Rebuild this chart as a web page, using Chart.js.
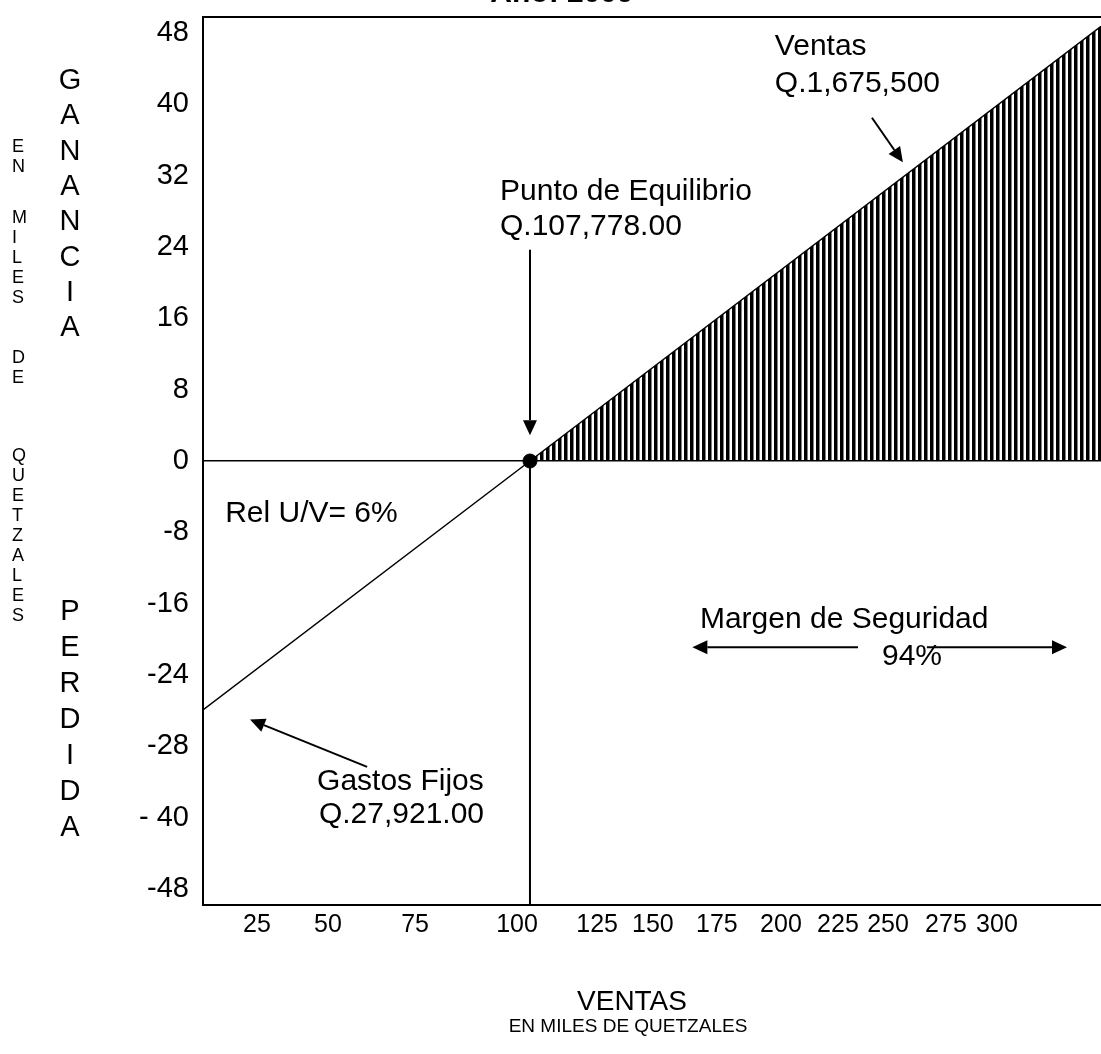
<!DOCTYPE html>
<html lang="es">
<head>
<meta charset="utf-8">
<title>Punto de Equilibrio</title>
<script src="https://cdn.jsdelivr.net/npm/chart.js@4.4.1/dist/chart.umd.min.js"></script>
<style>
  html, body { margin:0; padding:0; background:#fff; }
  #wrap { width:1101px; height:1054px; position:relative; }
</style>
</head>
<body>
<div id="wrap"><canvas id="chart"></canvas></div>
<script>
// datos en miles de quetzales
const ventasX = [0, 107.778, 296]
const utilidad = [-27.921, 0, 48.76]
const puntoEq = { x: 107.778, y: 0 }
const xTickLabels = ['25','50','75','100','125','150','175','200','225','250','275','300']
const xTickPos = [17.8, 41.2, 69.9, 103.5, 129.9, 148.3, 169.4, 190.5, 209.3, 225.8, 244.9, 261.7]
const yTickVals = [48, 40, 32, 24, 16, 8, 0, -8, -16, -24, -32, -40, -48]
const yTickLabels = ['48','40','32','24','16','8','0','-8','-16','-24','-28','- 40','-48']
const xMin = 0, xMax = 296, yMin = -49.8, yMax = 49.8

// textos y flechas (en unidades de los ejes)
const textos = [
  { t: 'Ventas', x: 188.5, y: 45.5 },
  { t: 'Q.1,675,500', x: 188.5, y: 41.4 },
  { t: 'Punto de Equilibrio', x: 97.9, y: 29.3 },
  { t: 'Q.107,778.00', x: 97.9, y: 25.3 },
  { t: 'Rel U/V= 6%', x: 7.3, y: -6.8 },
  { t: 'Gastos Fijos', x: 37.6, y: -36.9 },
  { t: 'Q.27,921.00', x: 38.2, y: -40.6 },
  { t: 'Margen de Seguridad', x: 163.8, y: -18.7 },
  { t: '94%', x: 223.8, y: -22.9 }
]
const flechas = [
  { from: [220.5, 38.5], to: [230.7, 33.5] },
  { from: [107.778, 23.7], to: [107.778, 2.9] },
  { from: [54.1, -34.3], to: [15.5, -29.0] },
  { from: [215.9, -20.9], to: [161.3, -20.9] },
  { from: [238.6, -20.9], to: [284.8, -20.9] }
]

const FONT = '"Liberation Sans", Arial, sans-serif'
Chart.defaults.font.family = FONT
Chart.defaults.color = '#000'

function pts(xs, ys) { return xs.map((x, i) => ({ x: x, y: ys[i] })) }

function rayado() {
  const c = document.createElement('canvas')
  c.width = 6; c.height = 6
  const g = c.getContext('2d')
  g.fillStyle = '#000'
  g.fillRect(0, 0, 3.5, 6)
  return g.createPattern(c, 'repeat')
}

function flecha(ctx, x1, y1, x2, y2) {
  const ang = Math.atan2(y2 - y1, x2 - x1), L = 15, W = 7
  const bx = x2 - L * Math.cos(ang), by = y2 - L * Math.sin(ang)
  ctx.beginPath(); ctx.moveTo(x1, y1); ctx.lineTo(bx, by); ctx.stroke()
  ctx.beginPath()
  ctx.moveTo(x2, y2)
  ctx.lineTo(bx + W * Math.sin(ang), by - W * Math.cos(ang))
  ctx.lineTo(bx - W * Math.sin(ang), by + W * Math.cos(ang))
  ctx.closePath(); ctx.fill()
}

function columna(ctx, letras, x, y0, paso) {
  letras.split('').forEach((l, i) => { if (l !== ' ') ctx.fillText(l, x, y0 + i * paso) })
}

const extras = {
  id: 'extras',
  afterDraw(chart) {
    const { ctx, chartArea: a, scales: { x, y } } = chart
    ctx.save()
    ctx.strokeStyle = '#000'; ctx.fillStyle = '#000'
    // borde superior
    ctx.lineWidth = 2
    ctx.beginPath(); ctx.moveTo(a.left, a.top); ctx.lineTo(a.right, a.top); ctx.stroke()

    // titulo (recortado arriba)
    ctx.font = 'bold 30px ' + FONT
    ctx.textAlign = 'center'; ctx.textBaseline = 'alphabetic'
    ctx.fillText('Año: 2009', 562, 2)

    // anotaciones
    ctx.font = '30px ' + FONT
    ctx.textAlign = 'left'
    textos.forEach(o => ctx.fillText(o.t, x.getPixelForValue(o.x), y.getPixelForValue(o.y)))
    ctx.lineWidth = 2
    flechas.forEach(f => flecha(ctx,
      x.getPixelForValue(f.from[0]), y.getPixelForValue(f.from[1]),
      x.getPixelForValue(f.to[0]), y.getPixelForValue(f.to[1])))

    // titulos de ejes
    ctx.textAlign = 'center'; ctx.textBaseline = 'middle'
    ctx.font = '29px ' + FONT
    columna(ctx, 'GANANCIA', 70, 81, 35.3)
    columna(ctx, 'PERDIDA', 70, 612, 36)
    ctx.font = '18px ' + FONT
    ctx.textAlign = 'left'
    columna(ctx, 'EN', 12, 147, 20)
    columna(ctx, 'MILES', 12, 218, 20)
    columna(ctx, 'DE', 12, 358, 20)
    columna(ctx, 'QUETZALES', 12, 456, 20)
    ctx.textAlign = 'center'
    ctx.font = '28px ' + FONT
    ctx.fillText('VENTAS', 632, 1002)
    ctx.font = '19px ' + FONT
    ctx.fillText('EN MILES DE QUETZALES', 628, 1027)
    ctx.restore()
  }
}

const ctx = document.getElementById('chart').getContext('2d')
new Chart(ctx, {
  type: 'line',
  data: {
    datasets: [
      { label: 'Punto de Equilibrio', data: [puntoEq], pointRadius: 7, pointBackgroundColor: '#000', pointBorderColor: '#000', showLine: false },
      { label: 'Ventas', data: pts(ventasX, utilidad), borderColor: '#000', borderWidth: 1.5, pointRadius: 0, fill: false },
      { label: 'Ganancia', data: pts(ventasX.slice(1), utilidad.slice(1)), borderWidth: 0, pointRadius: 0, fill: 'origin', backgroundColor: rayado() },
      { label: 'Vertical', data: [puntoEq, { x: puntoEq.x, y: yMin }], borderColor: '#000', borderWidth: 2, pointRadius: 0, fill: false }
    ]
  },
  options: {
    responsive: true,
    maintainAspectRatio: false,
    animation: false,
    layout: { autoPadding: false, padding: { top: 17, right: 0, left: 0, bottom: 0 } },
    plugins: { legend: { display: false }, tooltip: { enabled: false } },
    scales: {
      x: {
        type: 'linear', min: xMin, max: xMax,
        grid: { display: false, drawTicks: false },
        border: { display: true, color: '#000', width: 2 },
        afterBuildTicks: s => { s.ticks = xTickPos.map(v => ({ value: v })) },
        afterFit: s => { s.height = 149; s.paddingLeft = 0; s.paddingRight = 0 },
        ticks: { autoSkip: false, maxRotation: 0, padding: 5, font: { size: 25 },
          callback: (v, i) => xTickLabels[i] }
      },
      y: {
        type: 'linear', min: yMin, max: yMax,
        grid: { drawTicks: false, lineWidth: 1.5,
          color: c => (c.tick && c.tick.value === 0) ? '#000' : 'rgba(0,0,0,0)' },
        border: { display: true, color: '#000', width: 2 },
        afterBuildTicks: s => { s.ticks = yTickVals.map(v => ({ value: v })) },
        afterFit: s => { s.width = 203; s.paddingTop = 0; s.paddingBottom = 0 },
        ticks: { autoSkip: false, padding: 14, font: { size: 29 },
          callback: (v, i) => yTickLabels[i] }
      }
    }
  },
  plugins: [extras]
})
</script>
</body>
</html>
